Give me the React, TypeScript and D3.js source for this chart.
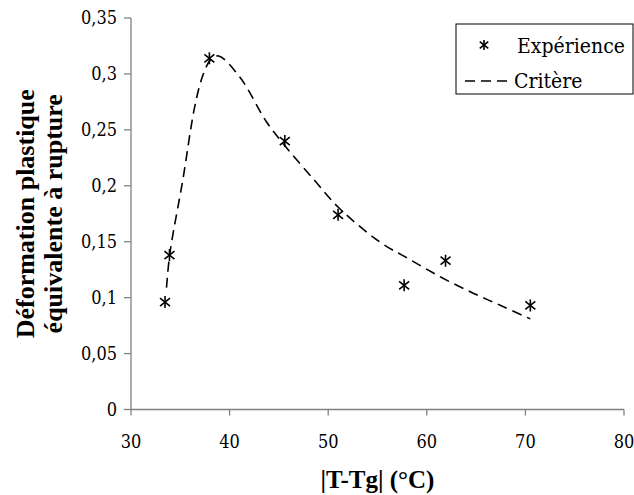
import React from "react";
import * as d3 from "d3";

const expX = [33.45, 33.9, 37.95, 45.6, 51.0, 57.7, 61.9, 70.5];
const expY = [0.096, 0.138, 0.314, 0.24, 0.174, 0.111, 0.133, 0.093];

const critX = [33.6, 33.95, 35.25, 36.47, 37.3, 38.1, 38.9, 41.05, 43.75, 45.4, 48.5, 51.0, 55.2, 58.3, 61.5, 64.7, 67.5, 70.5];
const critY = [0.109, 0.14, 0.205, 0.271, 0.299, 0.313, 0.316, 0.297, 0.257, 0.238, 0.206, 0.181, 0.15, 0.134, 0.118, 0.104, 0.093, 0.081];

const xTicks = [30, 40, 50, 60, 70, 80];
const yTicks = [0, 0.05, 0.1, 0.15, 0.2, 0.25, 0.3, 0.35];

const legendLabels = ["Expérience", "Critère"];
const xTitle = "|T-Tg| (°C)";
const yTitle = ["Déformation plastique", "équivalente à rupture"];

const W = 634;
const H = 495;
const left = 131;
const right = 624;
const top = 18;
const bottom = 409.5;
const boldFont = '"Liberation Serif", serif';
const regFont = '"DejaVu Serif Condensed", "DejaVu Serif", serif';
const axisColor = "#808080";

function Star({ x, y, s = 1 }: { x: number; y: number; s?: number }) {
  return (
    <g stroke="#000" strokeWidth={1.6} fill="none">
      <line x1={x} y1={y - 6 * s} x2={x} y2={y + 6 * s} />
      <line x1={x - 5 * s} y1={y - 4 * s} x2={x + 5 * s} y2={y + 4 * s} />
      <line x1={x - 5 * s} y1={y + 4 * s} x2={x + 5 * s} y2={y - 4 * s} />
    </g>
  );
}

export default function App() {
  const x = d3.scaleLinear().domain([30, 80]).range([left, right]);
  const y = d3.scaleLinear().domain([0, 0.35]).range([bottom, top]);

  const critData: [number, number][] = critX.map((v, i) => [v, critY[i]]);
  const line = d3
    .line<[number, number]>()
    .x((d) => x(d[0]))
    .y((d) => y(d[1]))
    .curve(d3.curveCatmullRom.alpha(0.5));

  const fmt = (v: number) => String(v).replace(".", ",");
  const ts = { fontFamily: regFont, fontWeight: 400 } as React.CSSProperties;
  const tb = { fontFamily: boldFont, fontWeight: 700 } as React.CSSProperties;

  return (
    <svg width={W} height={H} style={{ position: "absolute", left: 0, top: 0, background: "#fff" }}>
      <rect x={0} y={0} width={W} height={H} fill="#fff" />
      <line x1={left} y1={top} x2={left} y2={bottom} stroke={axisColor} strokeWidth={1.3} />
      <line x1={left} y1={bottom} x2={right} y2={bottom} stroke={axisColor} strokeWidth={1.3} />
      {yTicks.map((t) => (
        <g key={"y" + t}>
          <line x1={left - 7} x2={left} y1={y(t)} y2={y(t)} stroke={axisColor} strokeWidth={1.3} />
          <text x={left - 14} y={y(t)} dy="0.35em" textAnchor="end" fontSize={18} fill="#000" style={ts}>
            {fmt(t)}
          </text>
        </g>
      ))}
      {xTicks.map((t) => (
        <g key={"x" + t}>
          <line x1={x(t)} x2={x(t)} y1={bottom} y2={bottom + 6} stroke={axisColor} strokeWidth={1.3} />
          <text x={x(t)} y={448} textAnchor="middle" fontSize={18} fill="#000" style={ts}>
            {t}
          </text>
        </g>
      ))}
      <path d={line(critData) || ""} fill="none" stroke="#000" strokeWidth={1.6} strokeDasharray="10,6" />
      {expX.map((v, i) => (
        <Star key={i} x={x(v)} y={y(expY[i])} />
      ))}
      <text x={(left + right) / 2} y={488} textAnchor="middle" fontSize={25} fill="#000" style={tb}>
        {xTitle}
      </text>
      <g transform={`translate(0, ${(top + bottom) / 2}) rotate(-90)`}>
        <text x={0} y={34} textAnchor="middle" fontSize={26} fill="#000" style={tb}>
          {yTitle[0]}
        </text>
        <text x={0} y={62} textAnchor="middle" fontSize={26} fill="#000" style={tb}>
          {yTitle[1]}
        </text>
      </g>
      <rect x={456} y={24} width={177} height={70} fill="#fff" stroke="#000" strokeWidth={1} />
      <Star x={484} y={45} s={0.85} />
      <text x={517} y={53} fontSize={21} fill="#000" style={ts}>
        {legendLabels[0]}
      </text>
      <line x1={465} x2={513} y1={81} y2={81} stroke="#000" strokeWidth={1.6} strokeDasharray="10,6" />
      <text x={514} y={88} fontSize={21} fill="#000" style={ts}>
        {legendLabels[1]}
      </text>
    </svg>
  );
}
